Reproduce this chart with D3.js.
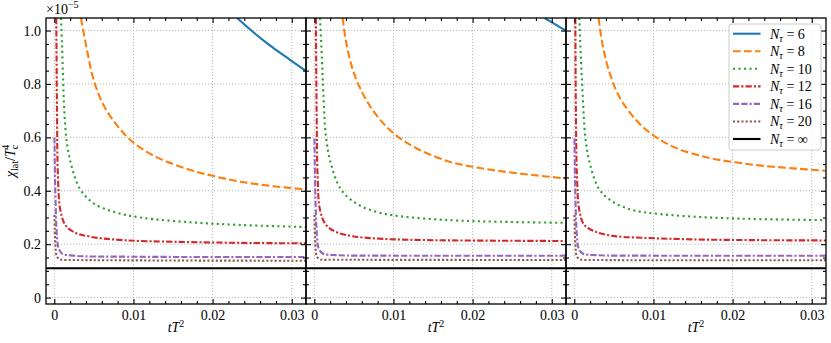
<!DOCTYPE html>
<html>
<head>
<meta charset="utf-8">
<script src="https://cdn.jsdelivr.net/npm/d3@7"></script>
<style>
  body { margin: 0; background: #fff; }
  svg text { font-family: "Liberation Serif", "Times New Roman", serif !important; fill: #000; }
</style>
</head>
<body>
<svg id="chart" width="831" height="343" font-family="Liberation Serif"></svg>
<script>
// ---- data (x = tT^2, y = chi_lat/Tc^4 in units of 1e-5), one list per panel ----
const xMajor = [0, 0.01, 0.02, 0.03];
const yMajor = [0, 0.2, 0.4, 0.6, 0.8, 1.0];
const nTauLabels = ["6", "8", "10", "12", "16", "20", "\u221e"];
const chiInf = 0.11;

const n6 = [
  [[0.0231, 1.047], [0.0253, 0.990], [0.0275, 0.939], [0.0297, 0.892], [0.0319, 0.846]],
  [[0.0291, 1.047], [0.0305, 1.022], [0.0318, 0.999]],
  []
];
const n8 = [
  [[0.00337, 1.047], [0.00413, 0.927], [0.00497, 0.815], [0.00623, 0.720], [0.00792, 0.645],
   [0.01002, 0.580], [0.01297, 0.525], [0.01718, 0.478], [0.0200, 0.456], [0.0235, 0.434],
   [0.0277, 0.417], [0.0319, 0.405]],
  [[0.00358, 1.047], [0.0040, 0.960], [0.00484, 0.855], [0.0061, 0.765], [0.0078, 0.685],
   [0.01002, 0.615], [0.01285, 0.560], [0.01706, 0.509], [0.0200, 0.490], [0.02337, 0.474],
   [0.0276, 0.459], [0.0318, 0.446]],
  [[0.00307, 1.047], [0.00358, 0.945], [0.00442, 0.845], [0.00569, 0.752], [0.0078, 0.665],
   [0.01002, 0.607], [0.01285, 0.560], [0.01706, 0.523], [0.0200, 0.508], [0.02337, 0.495],
   [0.0276, 0.484], [0.0318, 0.475]]
];
const n10 = [
  [[0.00085, 1.047], [0.00097, 0.952], [0.0011, 0.827], [0.00126, 0.702], [0.0016, 0.577],
   [0.00224, 0.485], [0.00328, 0.405], [0.00497, 0.353], [0.0075, 0.321], [0.01087, 0.300],
   [0.0172, 0.282], [0.0235, 0.272], [0.0319, 0.264]],
  [[0.00072, 1.047], [0.00097, 0.890], [0.00114, 0.765], [0.00148, 0.602], [0.00211, 0.500],
   [0.00337, 0.405], [0.00527, 0.353], [0.0078, 0.321], [0.01074, 0.305], [0.01706, 0.290],
   [0.0234, 0.284], [0.0318, 0.280]],
  [[0.00063, 1.047], [0.00084, 0.890], [0.00105, 0.765], [0.00139, 0.602], [0.00198, 0.500],
   [0.00316, 0.405], [0.00484, 0.359], [0.00737, 0.328], [0.01074, 0.313], [0.01706, 0.300],
   [0.02337, 0.294], [0.0318, 0.290]]
];
const n12 = [
  [[0.00025, 1.047], [0.00034, 0.702], [0.00046, 0.452], [0.00076, 0.328], [0.00139, 0.272],
   [0.00244, 0.246], [0.00455, 0.228], [0.00876, 0.215], [0.0151, 0.209], [0.0235, 0.205],
   [0.0319, 0.203]],
  [[0.0002, 1.047], [0.00029, 0.702], [0.00042, 0.452], [0.00072, 0.328], [0.00148, 0.272],
   [0.00274, 0.246], [0.00484, 0.230], [0.00863, 0.220], [0.0150, 0.215], [0.0234, 0.213],
   [0.0318, 0.212]],
  [[0.00013, 1.047], [0.0002, 0.702], [0.00034, 0.452], [0.00063, 0.328], [0.00126, 0.272],
   [0.00274, 0.246], [0.00484, 0.231], [0.00863, 0.224], [0.0150, 0.218], [0.0234, 0.215],
   [0.0318, 0.214]]
];
const n16 = [
  [[0.00002, 0.600], [0.00013, 0.390], [0.00034, 0.228], [0.00055, 0.184], [0.00097, 0.165],
   [0.00244, 0.157], [0.0100, 0.153], [0.0319, 0.152]],
  [[0.00002, 0.596], [0.00013, 0.390], [0.00034, 0.228], [0.00055, 0.184], [0.00106, 0.165],
   [0.00274, 0.159], [0.0100, 0.157], [0.0318, 0.157]],
  [[0.00002, 0.596], [0.00013, 0.390], [0.00034, 0.228], [0.00055, 0.184], [0.00106, 0.165],
   [0.00274, 0.159], [0.0100, 0.157], [0.0318, 0.157]]
];
const n20 = [
  [[0.00002, 0.309], [0.00013, 0.203], [0.00034, 0.153], [0.00076, 0.143], [0.00244, 0.141],
   [0.0319, 0.138]],
  [[0.00002, 0.309], [0.00013, 0.203], [0.00034, 0.153], [0.00076, 0.143], [0.00244, 0.142],
   [0.0318, 0.141]],
  [[0.00002, 0.309], [0.00013, 0.203], [0.00034, 0.153], [0.00076, 0.143], [0.00244, 0.141],
   [0.0318, 0.140]]
];

const series = [
  { data: n6,  color: "#1f77b4", dash: null },
  { data: n8,  color: "#ff7f0e", dash: "7.7,3.3" },
  { data: n10, color: "#2ca02c", dash: "2.1,3.4" },
  { data: n12, color: "#d62728", dash: "6.2,2.1,2.1,2.1" },
  { data: n16, color: "#9467bd", dash: "6.2,2.1,6.2,2.1,2.1,2.1" },
  { data: n20, color: "#8c564b", dash: "2.1,2.1" },
  { data: null, color: "#000000", dash: null }
];

// ---- layout ----
const FONT = '"Liberation Serif", "Times New Roman", serif';
const margin = { left: 46, top: 18 };
const panelW = 260, panelH = 286;
const svg = d3.select("#chart");

const x = d3.scaleLinear().domain([-0.00105, 0.0318]).range([0, panelW]);
const y = d3.scaleLinear().domain([-0.024, 1.047]).range([panelH, 0]);

const line = d3.line()
  .x(d => x(d[0]))
  .y(d => y(d[1]))
  .curve(d3.curveCatmullRom.alpha(0.5));

const xMinor = x.ticks(16).filter(v => !xMajor.some(m => Math.abs(m - v) < 1e-9));
const yMinor = y.ticks(20).filter(v => !yMajor.some(m => Math.abs(m - v) < 1e-9));

svg.append("defs").append("clipPath").attr("id", "clip")
  .append("rect").attr("width", panelW).attr("height", panelH);

for (let p = 0; p < 3; p++) {
  const g = svg.append("g")
    .attr("transform", `translate(${margin.left + p * panelW},${margin.top})`);

  // grid
  g.append("g").selectAll("line").data(xMajor).join("line")
    .attr("x1", d => x(d)).attr("x2", d => x(d))
    .attr("y1", 0).attr("y2", panelH)
    .attr("stroke", "#b0b0b0").attr("stroke-width", 0.9).attr("stroke-dasharray", "1.2,1.8");
  g.append("g").selectAll("line").data(yMajor).join("line")
    .attr("y1", d => y(d)).attr("y2", d => y(d))
    .attr("x1", 0).attr("x2", panelW)
    .attr("stroke", "#b0b0b0").attr("stroke-width", 0.9).attr("stroke-dasharray", "1.2,1.8");

  // curves
  const plot = g.append("g").attr("clip-path", "url(#clip)");
  series.forEach(s => {
    if (s.data === null) {
      plot.append("line")
        .attr("x1", 0).attr("x2", panelW)
        .attr("y1", y(chiInf)).attr("y2", y(chiInf))
        .attr("stroke", s.color).attr("stroke-width", 2.1);
      return;
    }
    if (!s.data[p].length) return;
    plot.append("path")
      .datum(s.data[p])
      .attr("d", line)
      .attr("fill", "none")
      .attr("stroke", s.color)
      .attr("stroke-width", 2.1)
      .attr("stroke-dasharray", s.dash);
  });

  // axes (ticks inward on all sides)
  const fmtX = d => d === 0 ? "0" : d3.format(".2f")(d);
  const fmtY = d => d === 0 ? "0" : d3.format(".1f")(d);

  g.append("g").attr("transform", `translate(0,${panelH})`)
    .call(d3.axisBottom(x).tickValues(xMajor).tickSizeInner(-5).tickSizeOuter(0).tickPadding(6).tickFormat(fmtX));
  g.append("g").attr("transform", `translate(0,${panelH})`)
    .call(d3.axisBottom(x).tickValues(xMinor).tickSizeInner(-3).tickSizeOuter(0).tickFormat(""));
  g.append("g")
    .call(d3.axisTop(x).tickValues(xMajor).tickSizeInner(-5).tickSizeOuter(0).tickFormat(""));
  g.append("g")
    .call(d3.axisTop(x).tickValues(xMinor).tickSizeInner(-3).tickSizeOuter(0).tickFormat(""));

  g.append("g")
    .call(d3.axisLeft(y).tickValues(yMajor).tickSizeInner(-5).tickSizeOuter(0).tickPadding(5)
      .tickFormat(p === 0 ? fmtY : ""));
  g.append("g")
    .call(d3.axisLeft(y).tickValues(yMinor).tickSizeInner(-3).tickSizeOuter(0).tickFormat(""));
  g.append("g").attr("transform", `translate(${panelW},0)`)
    .call(d3.axisRight(y).tickValues(yMajor).tickSizeInner(-5).tickSizeOuter(0).tickFormat(""));
  g.append("g").attr("transform", `translate(${panelW},0)`)
    .call(d3.axisRight(y).tickValues(yMinor).tickSizeInner(-3).tickSizeOuter(0).tickFormat(""));

  g.selectAll(".domain").remove();
  g.selectAll("g").attr("font-family", FONT);
  g.selectAll(".tick line").attr("stroke", "#000").attr("stroke-width", 1.1);
  g.selectAll(".tick text").style("font-size", "14px").style("font-family", FONT).attr("fill", "#000");

  // frame
  g.append("rect")
    .attr("width", panelW).attr("height", panelH)
    .attr("fill", "none").attr("stroke", "#000").attr("stroke-width", 1.3);

  // x label
  const xl = g.append("text")
    .attr("x", panelW / 2).attr("y", panelH + 28)
    .attr("text-anchor", "middle").style("font-size", "14px").style("font-family", FONT);
  xl.append("tspan").style("font-style", "italic").text("tT");
  xl.append("tspan").attr("dy", -5).style("font-size", "10px").text("2");

  // legend (last panel)
  if (p === 2) {
    const lg = g.append("g").attr("transform", "translate(163,6)");
    lg.append("rect")
      .attr("width", 92).attr("height", 126).attr("rx", 3)
      .attr("fill", "#fff").attr("fill-opacity", 0.8)
      .attr("stroke", "#cccccc").attr("stroke-width", 1);
    series.forEach((s, i) => {
      const yy = 9.7 + i * 17.55;
      lg.append("line")
        .attr("x1", 4).attr("x2", 31.5)
        .attr("y1", yy).attr("y2", yy)
        .attr("stroke", s.color).attr("stroke-width", 2.1)
        .attr("stroke-dasharray", s.dash);
      const t = lg.append("text").attr("x", 41).attr("y", yy + 5)
        .style("font-size", "14px").style("font-family", FONT);
      t.append("tspan").style("font-style", "italic").text("N");
      t.append("tspan").attr("dy", 3).style("font-size", "10px").style("font-style", "italic").text("\u03c4");
      t.append("tspan").attr("dy", -3).text(" = " + nTauLabels[i]);
    });
  }
}

// y label
const yl = svg.append("text")
  .attr("transform", `translate(15,${margin.top + panelH / 2}) rotate(-90)`)
  .attr("text-anchor", "middle").style("font-size", "14px").style("font-family", FONT);
yl.append("tspan").style("font-style", "italic").text("\u03c7");
yl.append("tspan").attr("dy", 3).style("font-size", "10px").text("lat");
yl.append("tspan").attr("dy", -3).text("/");
yl.append("tspan").style("font-style", "italic").text("T");
yl.append("tspan").attr("dy", 3).style("font-size", "10px").text("c");
yl.append("tspan").attr("dx", -5).attr("dy", -9).style("font-size", "10px").text("4");

// offset text
const off = svg.append("text").attr("x", 46).attr("y", 14)
  .style("font-size", "14px").style("font-family", FONT);
off.append("tspan").text("\u00d710");
off.append("tspan").attr("dy", -6).style("font-size", "10px").text("\u22125");
</script>
</body>
</html>
